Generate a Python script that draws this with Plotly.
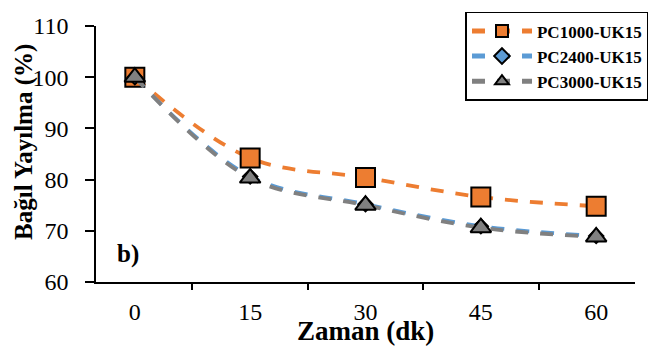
import plotly.graph_objects as go

# Time points (minutes) and relative spread (%) per mix
zaman = ["0", "15", "30", "45", "60"]
pc1000 = [100.0, 84.2, 80.4, 76.6, 74.8]
pc2400 = [100.0, 80.6, 75.2, 70.9, 69.0]
pc3000 = [100.0, 80.3, 75.0, 70.6, 68.8]

series = [
    ("PC1000-UK15", pc1000, "#ED7D31", "square", 19),
    ("PC2400-UK15", pc2400, "#5B9BD5", "diamond", 11),
    ("PC3000-UK15", pc3000, "#808080", "triangle-up", 18),
]

fig = go.Figure()
for name, vals, color, symbol, size in series:
    fig.add_trace(go.Scatter(
        x=zaman, y=vals, name="<b>" + name + "</b>", mode="lines+markers",
        line=dict(color=color, width=3.8, dash="13px,12px", shape="spline"),
        marker=dict(symbol=symbol, size=size, color=color,
                    line=dict(color="black", width=2)),
    ))

serif = "Liberation Serif"

fig.update_layout(
    width=660, height=353,
    margin=dict(l=96, r=12, t=16, b=71),
    template="simple_white",
    font=dict(family=serif, color="black"),
    showlegend=True,
    legend=dict(
        x=1.025, y=1.055, xanchor="right", yanchor="top",
        bgcolor="white", bordercolor="black", borderwidth=1.5,
        font=dict(family=serif, size=17, color="black"),
        itemwidth=60, itemsizing="constant", tracegroupgap=0,
    ),
    xaxis=dict(
        type="category", tickson="boundaries",
        showline=True, linecolor="black", linewidth=1.5,
        ticks="outside", ticklen=6, tickcolor="black", tickwidth=1.5,
        tickfont=dict(family=serif, size=24, color="black"),
        ticklabelstandoff=7,
        showgrid=False, zeroline=False,
    ),
    yaxis=dict(
        range=[60, 110], tickvals=[60, 70, 80, 90, 100, 110],
        showline=True, linecolor="black", linewidth=1.5,
        ticks="outside", ticklen=9, tickcolor="black", tickwidth=1.5,
        tickfont=dict(family=serif, size=24, color="black"),
        ticklabelstandoff=12,
        showgrid=False, zeroline=False,
    ),
    annotations=[
        dict(text="<b>Zaman (dk)</b>", xref="paper", yref="paper",
             x=0.5, y=-0.19, xanchor="center", yanchor="middle",
             showarrow=False, font=dict(family=serif, size=27, color="black")),
        dict(text="<b>Bağıl Yayılma (%)</b>", xref="paper", yref="paper",
             x=-0.135, y=0.548, xanchor="center", yanchor="middle", textangle=-90,
             showarrow=False, font=dict(family=serif, size=25, color="black")),
        dict(text="<b>b)</b>", xref="paper", yref="paper",
             x=0.035, y=0.11, xanchor="left", yanchor="middle",
             showarrow=False, font=dict(family=serif, size=25, color="black")),
    ],
)

# keep every label in the serif face once the figure is drawn
serif_js = (
    "Array.prototype.forEach.call(document.getElementsByTagName('text'), function(t){"
    "t.style.fontFamily=\"'Liberation Serif', 'Times New Roman', serif\";});"
)

fig.write_html("out.html", post_script=serif_js)
